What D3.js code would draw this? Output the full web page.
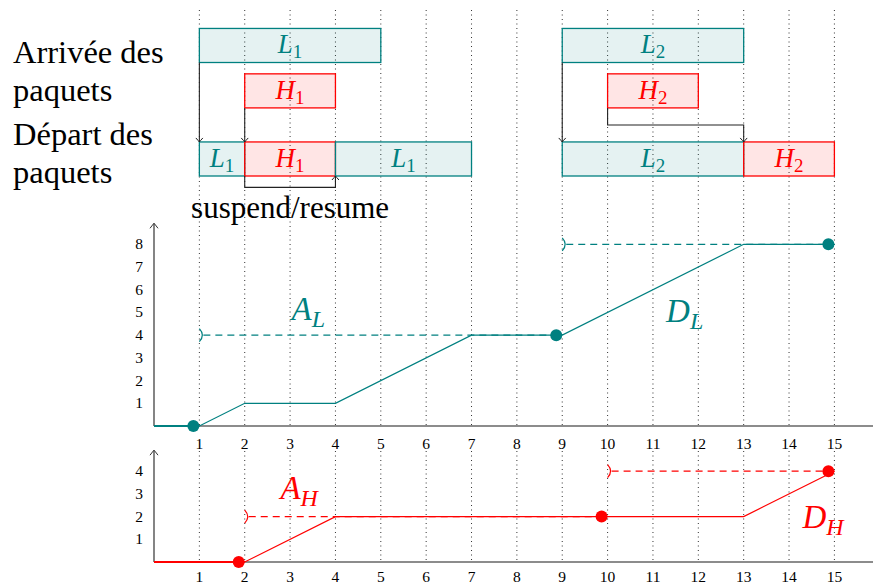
<!DOCTYPE html>
<html lang="fr">
<head>
<meta charset="UTF-8">
<title>Arrivée / départ des paquets</title>
<script src="https://d3js.org/d3.v7.min.js"></script>
<style>
  html, body { margin: 0; padding: 0; background: #fff; }
  svg { display: block; }
</style>
</head>
<body>
<svg id="chart" width="873" height="588" font-family="'Liberation Serif', 'DejaVu Serif', serif"></svg>
<script>
// ---- data ----
const timeTicks = d3.range(1, 16);
const ticksL = [1, 2, 3, 4, 5, 6, 7, 8];
const ticksH = [1, 2, 3, 4];

// packets: [class, index, start, end]
const arrivalPackets = [["L", "1", 1, 5], ["H", "1", 2, 4], ["L", "2", 9, 13], ["H", "2", 10, 12]];
const departureSlices = [["L", "1", 1, 2], ["H", "1", 2, 4], ["L", "1", 4, 7], ["L", "2", 9, 13], ["H", "2", 13, 15]];
// arrow paths in (time, row level)
const arrowPaths = [
  [[1, 5], [1, 1.5]],
  [[2, 3], [2, 1.5]],
  [[2, 0], [2, -0.5], [4, -0.5], [4, 0]],
  [[9, 5], [9, 1.5]],
  [[10, 3], [10, 2.25], [13, 2.25], [13, 1.5]]
];

// cumulative curves
const depL = [[0, 0], [1, 0], [2, 1], [4, 1], [7, 4], [9, 4], [13, 8], [15, 8]];
const arrL = [[1, 9, 4], [9, 15, 8]];       // [from, to, level]
const dotsL = [[1, 0], [9, 4], [15, 8]];
const depH = [[0, 0], [2, 0], [4, 2], [13, 2], [15, 4]];
const arrH = [[2, 10, 2], [10, 15, 4]];
const dotsH = [[2, 0], [10, 2], [15, 4]];

const TEAL = "#008080";
const RED = "#ff0000";
const colorOf = c => c === "L" ? TEAL : RED;

const svg = d3.select("#chart");

// ---- scales ----
const x = d3.scaleLinear().domain([0, 15]).range([154, 834.4]);
const yRow = d3.scaleLinear().domain([0, 1]).range([176, 153.3]);
const yL = d3.scaleLinear().domain([0, 8]).range([426, 244.3]);
const yH = d3.scaleLinear().domain([0, 4]).range([562, 471.2]);

// arrowhead marker
const defs = svg.append("defs");
defs.append("marker")
  .attr("id", "tip")
  .attr("viewBox", "-6 -5 8 10")
  .attr("markerWidth", 8).attr("markerHeight", 10)
  .attr("markerUnits", "userSpaceOnUse")
  .attr("orient", "auto")
  .append("path")
  .attr("d", "M-4,-3.5 Q-1,-0.8 0,0 Q-1,0.8 -4,3.5")
  .attr("fill", "none").attr("stroke", "#222").attr("stroke-width", 1);

// ---- dotted grid ----
const grid = svg.append("g");
grid.selectAll(".gt").data(timeTicks).join("line")
  .attr("x1", d => x(d)).attr("x2", d => x(d))
  .attr("y1", 10).attr("y2", yL(0))
  .attr("stroke", "#333").attr("stroke-width", 1).attr("stroke-dasharray", "1,3.5");
grid.selectAll(".gb").data(timeTicks).join("line")
  .attr("x1", d => x(d)).attr("x2", d => x(d))
  .attr("y1", 451).attr("y2", yH(0))
  .attr("stroke", "#333").attr("stroke-width", 1).attr("stroke-dasharray", "1,3.5");

// ---- left labels ----
const left = svg.append("g").attr("font-size", 32.5).attr("fill", "#000");
[["Arrivée des", 63], ["paquets", 101], ["Départ des", 145], ["paquets", 183]].forEach(([t, b]) => {
  left.append("text").attr("x", 13).attr("y", b).text(t);
});

// ---- boxes ----
function drawBox(g, d, lo, hi) {
  const [cls, idx, s, e] = d;
  const c = colorOf(cls);
  g.append("rect")
    .attr("x", x(s)).attr("y", yRow(hi))
    .attr("width", x(e) - x(s)).attr("height", yRow(lo) - yRow(hi))
    .attr("fill", c).attr("fill-opacity", 0.1)
    .attr("stroke", c).attr("stroke-width", 1.3);
  const t = g.append("text")
    .attr("x", (x(s) + x(e)) / 2).attr("y", (yRow(lo) + yRow(hi)) / 2 + 8)
    .attr("text-anchor", "middle").attr("fill", c);
  t.append("tspan").attr("font-style", "italic").attr("font-size", 27).text(cls);
  t.append("tspan").attr("font-size", 19).attr("dy", 5).text(idx);
}
const boxes = svg.append("g");
arrivalPackets.forEach(d => drawBox(boxes, d, d[0] === "L" ? 5 : 3, d[0] === "L" ? 6.5 : 4.5));
departureSlices.forEach(d => drawBox(boxes, d, 0, 1.5));

// ---- arrows ----
const rowLine = d3.line().x(d => x(d[0])).y(d => yRow(d[1]));
svg.append("g").selectAll("path").data(arrowPaths).join("path")
  .attr("d", rowLine)
  .attr("fill", "none").attr("stroke", "#222").attr("stroke-width", 1.1)
  .attr("marker-end", "url(#tip)");

svg.append("text").attr("x", x(3)).attr("y", 218)
  .attr("text-anchor", "middle").attr("font-size", 31).text("suspend/resume");

// ---- axes ----
function drawAxes(y, ticks, labelY) {
  const g = svg.append("g");
  g.append("line").attr("x1", x(0)).attr("x2", 873).attr("y1", y(0)).attr("y2", y(0))
    .attr("stroke", "#666").attr("stroke-width", 1.6);
  const topY = y.range()[1] - 21;
  g.append("line").attr("x1", x(0)).attr("x2", x(0)).attr("y1", y(0)).attr("y2", topY)
    .attr("stroke", "#666").attr("stroke-width", 1.6);
  g.append("path")
    .attr("d", `M${x(0) - 4},${topY + 5} Q${x(0) - 1},${topY + 1} ${x(0)},${topY} Q${x(0) + 1},${topY + 1} ${x(0) + 4},${topY + 5}`)
    .attr("fill", "none").attr("stroke", "#333").attr("stroke-width", 1);
  g.selectAll(".yt").data(ticks).join("text")
    .attr("x", 143).attr("y", d => y(d) + 5)
    .attr("text-anchor", "end").attr("font-size", 15.5).text(d => d);
  g.selectAll(".xt").data(timeTicks).join("text")
    .attr("x", d => x(d)).attr("y", labelY)
    .attr("text-anchor", "middle").attr("font-size", 15.5).text(d => d);
}
drawAxes(yL, ticksL, 449);
drawAxes(yH, ticksH, 582);

// ---- curves ----
function drawCurves(y, dep, arr, dots, color, labels) {
  const g = svg.append("g");
  arr.forEach(([a, b, v]) => {
    g.append("line").attr("x1", x(a) + 4).attr("x2", x(b)).attr("y1", y(v)).attr("y2", y(v))
      .attr("stroke", color).attr("stroke-width", 1.2).attr("stroke-dasharray", "7,5");
    // open-interval bracket ")"
    g.append("path")
      .attr("d", `M${x(a)},${y(v) - 6.5} Q${x(a) + 6},${y(v)} ${x(a)},${y(v) + 6.5}`)
      .attr("fill", "none").attr("stroke", color).attr("stroke-width", 1.2);
  });
  g.append("path").datum(dep)
    .attr("d", d3.line().x(d => x(d[0])).y(d => y(d[1])))
    .attr("fill", "none").attr("stroke", color).attr("stroke-width", 1.2);
  g.append("line").attr("x1", x(dep[0][0])).attr("x2", x(dep[1][0]))
    .attr("y1", y(0)).attr("y2", y(0)).attr("stroke", color).attr("stroke-width", 2);
  g.selectAll("circle").data(dots).join("circle")
    .attr("cx", d => x(d[0]) - 6).attr("cy", d => y(d[1])).attr("r", 6)
    .attr("fill", color);
  labels.forEach(([main, sub, tx, ty]) => {
    const t = g.append("text").attr("x", x(tx)).attr("y", y(ty) + 10)
      .attr("text-anchor", "middle").attr("fill", color);
    t.append("tspan").attr("font-style", "italic").attr("font-size", 33).text(main);
    t.append("tspan").attr("font-style", "italic").attr("font-size", 24).attr("dy", 7).text(sub);
  });
}
drawCurves(yL, depL, arrL, dotsL, TEAL, [["A", "L", 3.4, 5.1], ["D", "L", 11.7, 5]]);
drawCurves(yH, depH, arrH, dotsH, RED, [["A", "H", 3.2, 3.2], ["D", "H", 14.75, 1.95]]);
</script>
</body>
</html>
